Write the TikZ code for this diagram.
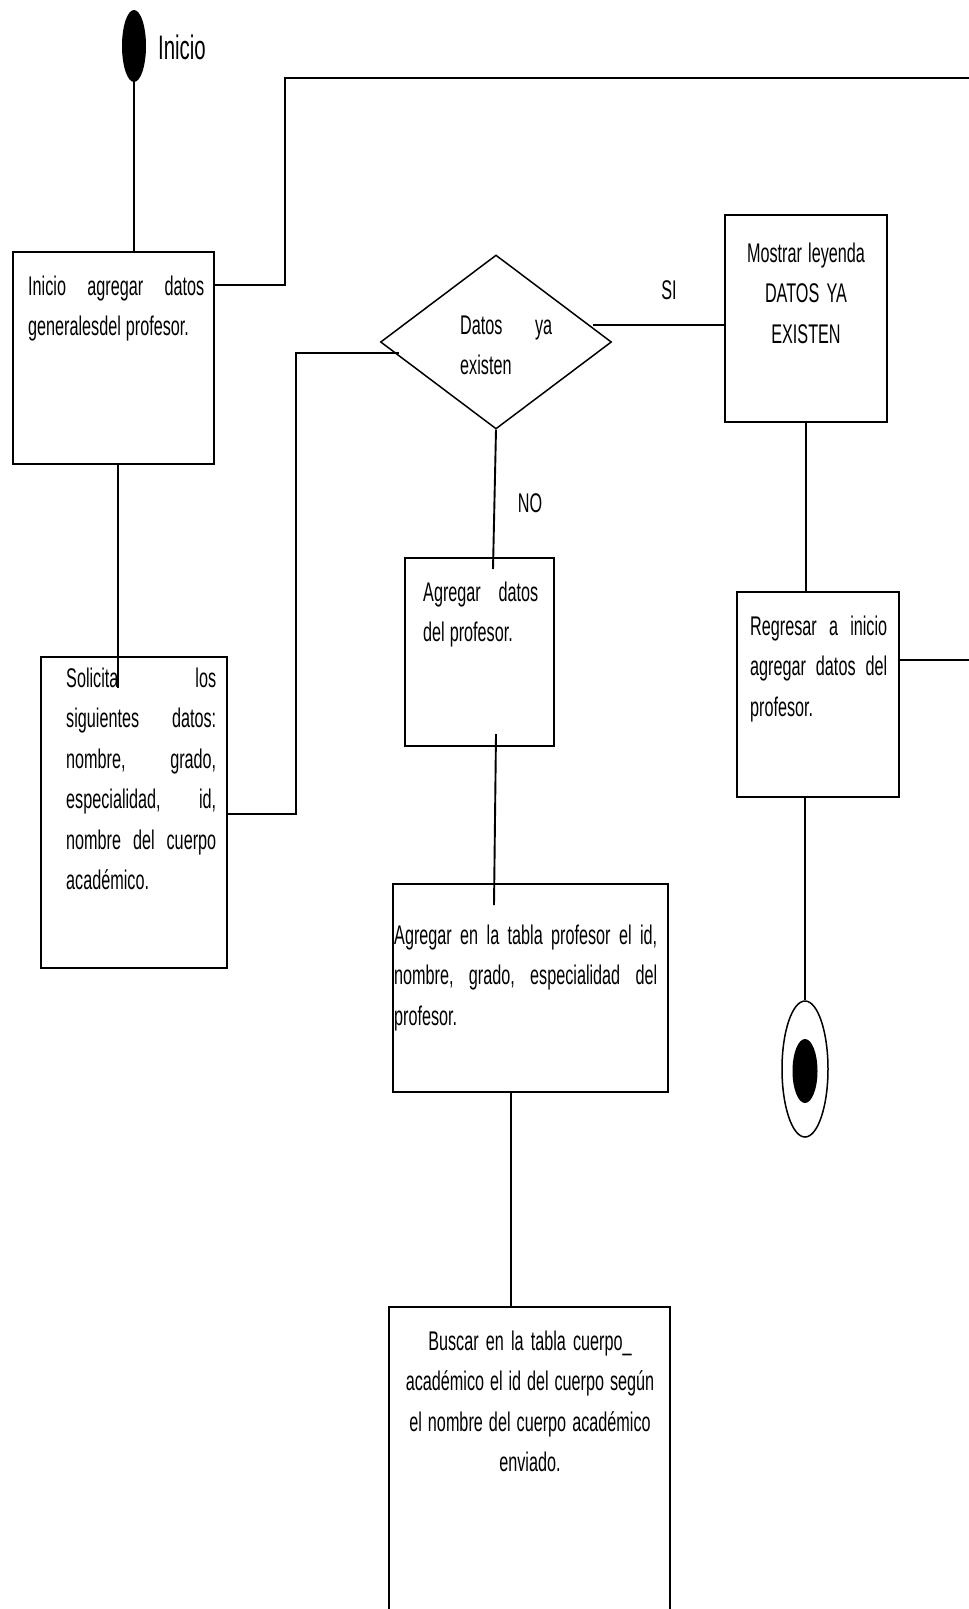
\documentclass[tikz,border=0pt]{standalone}
\usepackage{fontspec}
\setmainfont{Liberation Sans}[FakeStretch=0.6]
\usetikzlibrary{shapes.geometric}
\newcommand{\bodyfont}{\fontsize{27}{40.5}\selectfont}
% narrow interword space, set inside the node text so that align= does not reset it
\newcommand{\tight}{\spaceskip=5pt plus 3pt minus 1pt\xspaceskip=5pt plus 3pt\relax}
\begin{document}
\begin{tikzpicture}[x=1pt,y=-1pt,
  box/.style={draw, rectangle, line width=2pt, inner sep=0pt},
  txt/.style={inner sep=0pt, align=left, font=\bodyfont},
  ctxt/.style={inner sep=0pt, align=center, font=\bodyfont},
  link/.style={line width=1.9pt},
  lbl/.style={inner sep=0pt, font=\bodyfont}]
\useasboundingbox (0,0) rectangle (969,1609);
\fill[white] (0,0) rectangle (969,1609);
\clip (0,0) rectangle (969,1609);

% start state
\node[ellipse, fill=black, inner sep=0pt, minimum width=24pt, minimum height=72pt] (start) at (134,46) {};
\node[inner sep=0pt, anchor=base west, font=\fontsize{34}{40}\selectfont] (startlbl) at (158,59) {Inicio};

% activity boxes
\node[box, minimum width=201pt, minimum height=212pt] (b1) at (113.5,358) {};
\node[txt, text width=176pt, anchor=base west] (t1) at (28,295)
  {\tight Inicio\hfill agregar\hfill datos\\generalesdel profesor.};

\node[box, minimum width=186pt, minimum height=311pt] (b2) at (134,812.5) {};
\node[txt, text width=150pt, anchor=base west] (t2) at (66,687)
  {\tight Solicita\hfill los\\siguientes\hfill datos:\\nombre,\hfill grado,\\especialidad,\hfill id,\\nombre\hfill del\hfill cuerpo\\académico.};

\node[draw, diamond, line width=1.5pt, inner sep=0pt, minimum width=231pt, minimum height=174pt] (dec) at (496,342) {};
\node[txt, text width=92pt, anchor=base west] (tdec) at (460,334)
  {\tight Datos\hfill ya\\existen};

\node[box, minimum width=162pt, minimum height=207pt] (b3) at (806,318.5) {};
\node[ctxt, text width=162pt, anchor=base] (t3) at (806,262)
  {\tight Mostrar leyenda\\DATOS YA\\EXISTEN};

\node[box, minimum width=149pt, minimum height=188pt] (b4) at (479.5,652) {};
\node[txt, text width=115pt, anchor=base west] (t4) at (423,601)
  {\tight Agregar\hfill datos\\del profesor.};

\node[box, minimum width=162pt, minimum height=205pt] (b5) at (818,694.5) {};
\node[txt, text width=137pt, anchor=base west] (t5) at (750,635)
  {\tight Regresar\hfill a\hfill inicio\\agregar\hfill datos\hfill del\\profesor.};

\node[box, minimum width=275pt, minimum height=208pt] (b6) at (530.5,988) {};
\node[txt, text width=263pt, anchor=base west] (t6) at (394,944)
  {\tight Agregar\hfill en\hfill la\hfill tabla\hfill profesor\hfill el\hfill id,\\nombre,\hfill grado,\hfill especialidad\hfill del\\profesor.};

\node[box, minimum width=281pt, minimum height=343pt] (b7) at (529.5,1478.5) {};
\node[ctxt, text width=281pt, anchor=base] (t7) at (530,1350)
  {\tight Buscar en la tabla cuerpo\_\\académico el id del cuerpo según\\el nombre del cuerpo académico\\enviado.};

% final state
\node[draw, ellipse, line width=1.5pt, inner sep=0pt, minimum width=46pt, minimum height=136pt] (fin) at (805,1069) {};
\node[ellipse, fill=black, inner sep=0pt, minimum width=25pt, minimum height=64pt] (finin) at (805,1071) {};

% guard labels
\node[lbl] (si) at (669,290) {SI};
\node[lbl] (no) at (530,503) {NO};

% connector points
\coordinate (p1) at (118,688);
\coordinate (r1) at (285,285);
\coordinate (e1) at (969,78);
\coordinate (q1) at (296,814);
\coordinate (q2) at (399,353);
\coordinate (s1) at (593,325);
\coordinate (n1) at (493,569);
\coordinate (a1) at (496,734);
\coordinate (a2) at (494,905);
\coordinate (e2) at (969,660);
\coordinate (c1) at (511,0);

% connectors
\draw[link] (start.south) -- (start.south |- b1.north);
\draw[link] (b1.south -| p1) -- (p1);
\draw[link] (b1.east |- r1) -- (r1) |- (e1);
\draw[link] (b2.east |- q1) -- (q1) |- (q2);
\draw[link] (s1) -- (s1 -| b3.west);
\draw[link] (dec.south) -- (n1);
\draw[link] (a1) -- (a2);
\draw[link] (b3.south) -- (b3.south |- b5.north);
\draw[link] (fin.north |- b5.south) -- (fin.north);
\draw[link] (b5.east |- e2) -- (e2);
\draw[link] (b6.south -| c1) -- (b7.north -| c1);
\end{tikzpicture}
\end{document}
